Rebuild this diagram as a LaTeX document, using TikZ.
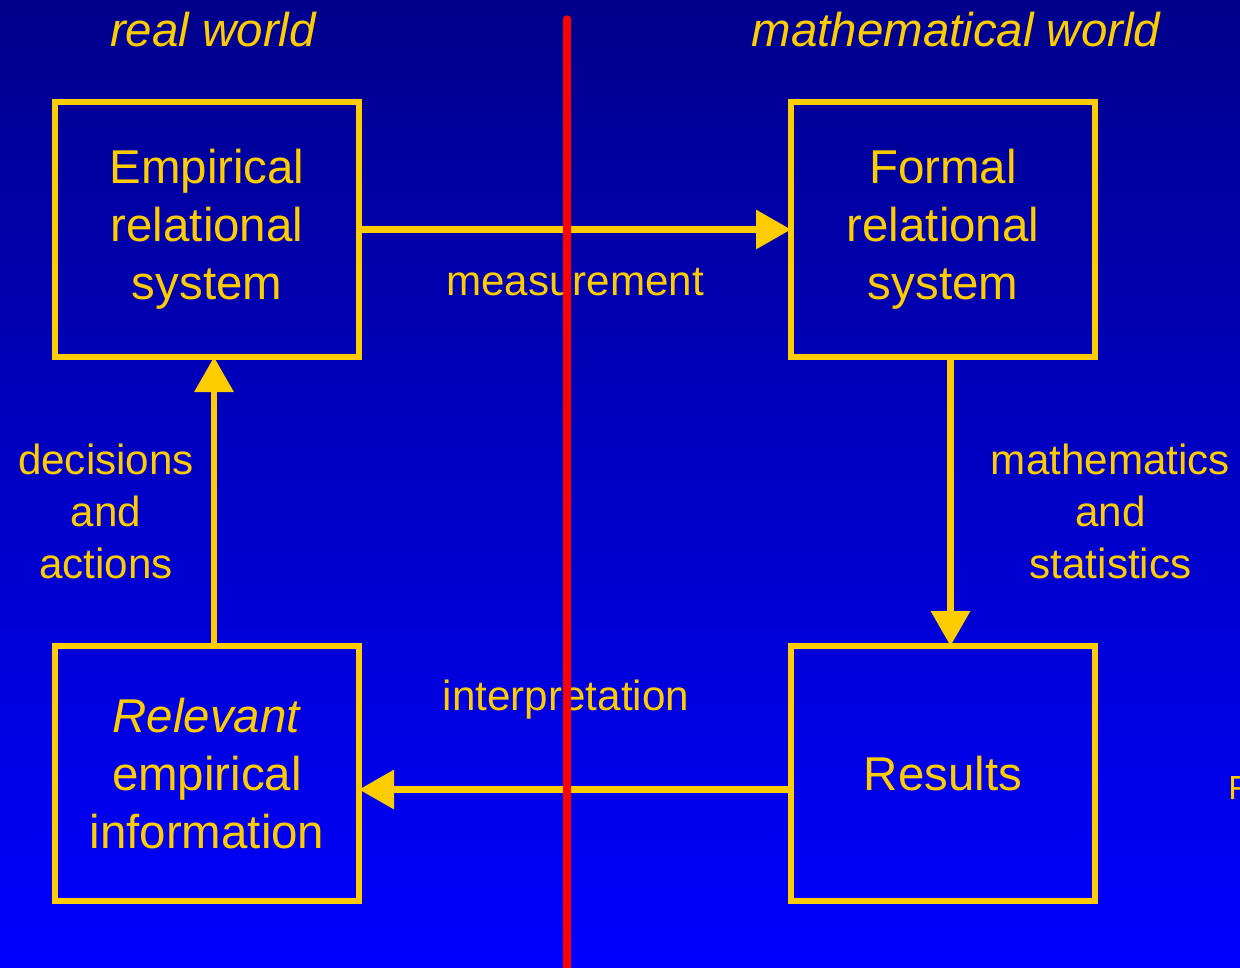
\documentclass[tikz,border=0pt]{standalone}
\usepackage{fontspec}
\setmainfont{Liberation Sans}
\usepackage{tikz}
\usetikzlibrary{positioning, arrows.meta}
\usepackage{xcolor}
\definecolor{gold}{RGB}{255,204,0}
\definecolor{navytop}{RGB}{0,0,140}
\definecolor{bluebot}{RGB}{0,0,255}

\begin{document}
\begin{tikzpicture}[
    node distance=5.78cm and 8.64cm,
    sysbox/.style={rectangle, draw=gold, line width=0.13cm, minimum width=6.08cm, minimum height=5.1cm, outer sep=0pt, align=center, text=gold, font=\fontsize{27}{33}\selectfont},
    label/.style={align=center, text=gold, font=\fontsize{24}{29.6}\selectfont},
    worldtitle/.style={text=gold, font=\fontsize{27}{32}\selectfont\itshape},
    arrow/.style={-{Triangle[length=0.7cm, width=0.76cm]}, draw=gold, line width=0.13cm}
]
    % Background
    \fill[top color=navytop, bottom color=bluebot] (0,0) rectangle (24.8,-19.34);
    \useasboundingbox (0,0) rectangle (24.8,-19.34);

    % Nodes
    \node[sysbox] (emp) at (4.14,-4.59) {Empirical\\ relational\\ system};
    \node[sysbox, right=of emp] (formal) {Formal\\ relational\\ system};
    \node[sysbox, below=of formal] (res) {Results};
    \node[sysbox, below=of emp] (rel) {\textit{Relevant}\\ empirical\\ information};

    \node[worldtitle] (realw) at (4.26,-0.6) {real world};
    \node[worldtitle] (mathw) at (19.12,-0.6) {mathematical world};
    \node[text=gold, font=\fontsize{19}{22}\selectfont, anchor=base west, inner sep=0pt] (cut) at (24.56,-15.98) {F};

    % Edges
    \draw[arrow] (emp) -- node[label, midway, yshift=-1.06cm] {measurement} (formal);
    \draw[arrow] ([xshift=0.15cm]formal.south) -- node[label, midway, xshift=3.2cm, yshift=-0.19cm] {mathematics\\ and\\ statistics} ([xshift=0.15cm]res.north);
    \draw[arrow] ([yshift=-0.32cm]res.west) -- node[label, midway, xshift=-0.18cm, yshift=1.8cm] {interpretation} ([yshift=-0.32cm]rel.east);
    \draw[arrow] ([xshift=0.14cm]rel.north) -- node[label, midway, xshift=-2.16cm, yshift=-0.19cm] {decisions\\ and\\ actions} ([xshift=0.14cm]emp.south);

    % Divider
    \coordinate (divtop) at (11.34,-0.38);
    \coordinate (divbot) at (11.34,-19.6);
    \draw[red, line width=0.15cm, line cap=round] (divtop) -- (divbot);
\end{tikzpicture}
\end{document}
